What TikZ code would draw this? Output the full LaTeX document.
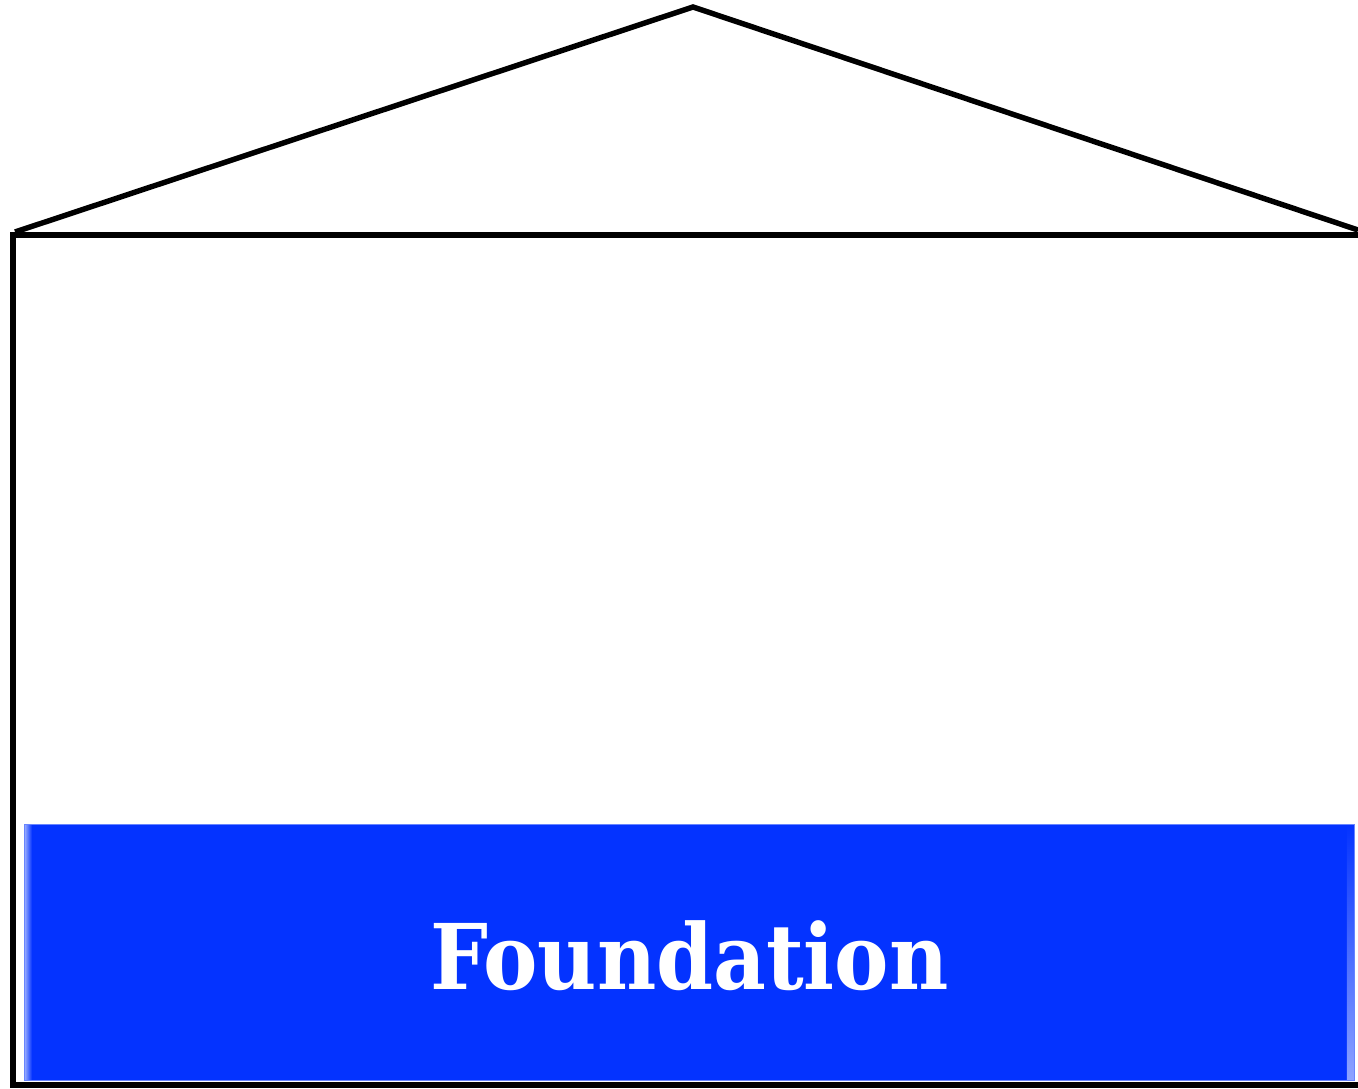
\documentclass[tikz,border=0pt]{standalone}
\usepackage{fontspec}
\newfontfamily\slabfont{DejaVu Serif Condensed}
\usetikzlibrary{positioning}
\definecolor{slabblue}{RGB}{4,51,255}

\begin{document}
\begin{tikzpicture}[
    x=0.02cm, y=-0.02cm,
    wall/.style={line width=3.4pt, line cap=rect},
    roofline/.style={line width=3.1pt},
    slab/.style={
        rectangle, fill=slabblue, draw=slabblue!60!white, line width=0.6pt,
        minimum width=26.6cm, minimum height=5.12cm, inner sep=0pt,
        anchor=north west
    },
    bevel/.style={draw=none, left color=slabblue!45!white, right color=slabblue},
]
\useasboundingbox (0,0) rectangle (1358,1088);
% roof
\coordinate (apex)  at (693,7);
\coordinate (eaveL) at (15,232);
\coordinate (eaveR) at (1358,230);
\draw[roofline] (eaveL) -- (apex) -- (eaveR);
% walls
\coordinate (topR) at (1358,235);
\coordinate (topL) at (13,235);
\coordinate (botL) at (13,1085);
\coordinate (botR) at (1358,1085);
\draw[wall] (topR) -- (topL) -- (botL) -- (botR);
% foundation slab
\node[slab] (found) at (24,824) {};
\shade[bevel] ([shift={(0.6pt,-0.6pt)}]found.north west) rectangle ([xshift=0.16cm, yshift=0.6pt]found.south west);
\shade[bevel, shading angle=180] ([shift={(-0.6pt,-0.6pt)}]found.north east) rectangle ([xshift=-0.16cm, yshift=0.6pt]found.south east);
\node[text=white, font=\slabfont\bfseries\fontsize{51.6}{60}\selectfont, yshift=-0.07cm]
    (foundtext) at (found.center) {Foundation};
\end{tikzpicture}
\end{document}
